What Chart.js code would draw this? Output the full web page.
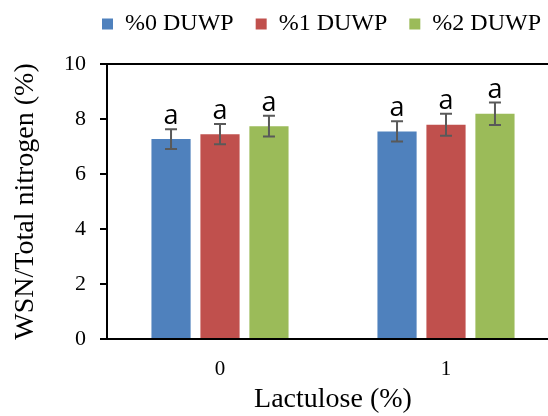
<!DOCTYPE html>
<html>
<head>
<meta charset="utf-8">
<script src="https://cdn.jsdelivr.net/npm/chart.js@4.4.1/dist/chart.umd.min.js"></script>
<style>
html, body { margin: 0; padding: 0; background: #fff; overflow: hidden; }
#wrap { width: 643px; height: 416px; }
</style>
</head>
<body>
<div id="wrap"><canvas id="myChart"></canvas></div>
<script>
// Lactulose levels on the x axis
var categories = ['0', '1'];
var seriesNames = ['%0 DUWP', '%1 DUWP', '%2 DUWP'];
var seriesColors = ['#4F81BD', '#C0504D', '#9BBB59'];

// WSN / total nitrogen, mean values
var duwp0 = [7.27, 7.55];
var duwp1 = [7.45, 7.79];
var duwp2 = [7.74, 8.19];
// standard deviations (error bars)
var err0 = [0.36, 0.37];
var err1 = [0.37, 0.40];
var err2 = [0.38, 0.41];
// significance letters
var letters0 = ['a', 'a'];
var letters1 = ['a', 'a'];
var letters2 = ['a', 'a'];

var yTicks = [0, 2, 4, 6, 8, 10];

var serif = "'Liberation Serif', 'Times New Roman', serif";

// legend takes a fixed band at the top
var legendHeight = {
	id: 'legendHeight',
	beforeInit: function(chart){
		var fit = chart.legend.fit;
		chart.legend.fit = function(){
			fit.call(this);
			this.height = 74;
		};
	}
};

var errorBarPlugin = {
	id: 'errorBars',
	afterDatasetsDraw: function(chart){
		var ctx = chart.ctx;
		var yScale = chart.scales.y;
		chart.data.datasets.forEach(function(ds, i){
			var meta = chart.getDatasetMeta(i);
			meta.data.forEach(function(bar, j){
				var v = ds.data[j];
				var e = ds.errors[j];
				var yTop = yScale.getPixelForValue(v + e);
				var yBot = yScale.getPixelForValue(v - e);
				ctx.save();
				ctx.strokeStyle = '#595959';
				ctx.lineWidth = 2;
				ctx.beginPath();
				ctx.moveTo(bar.x, yTop);
				ctx.lineTo(bar.x, yBot);
				ctx.moveTo(bar.x - 6, yTop);
				ctx.lineTo(bar.x + 6, yTop);
				ctx.moveTo(bar.x - 6, yBot);
				ctx.lineTo(bar.x + 6, yBot);
				ctx.stroke();
				ctx.fillStyle = '#000';
				ctx.font = "27px 'Open Sans', sans-serif";
				ctx.textAlign = 'center';
				ctx.textBaseline = 'alphabetic';
				ctx.fillText(ds.letters[j], bar.x, yTop - 5);
				ctx.restore();
			});
		});
	}
};

var ctx = document.getElementById('myChart').getContext('2d');
var chart = new Chart(ctx, {
	type: 'bar',
	data: {
		labels: categories,
		datasets: [{
			label: seriesNames[0],
			backgroundColor: seriesColors[0],
			data: duwp0,
			errors: err0,
			letters: letters0
		}, {
			label: seriesNames[1],
			backgroundColor: seriesColors[1],
			data: duwp1,
			errors: err1,
			letters: letters1
		}, {
			label: seriesNames[2],
			backgroundColor: seriesColors[2],
			data: duwp2,
			errors: err2,
			letters: letters2
		}]
	},
	options: {
		responsive: true,
		maintainAspectRatio: false,
		animation: false,
		devicePixelRatio: 1,
		categoryPercentage: 0.65,
		barPercentage: 0.8,
		layout: {
			padding: { top: -10, right: 0, bottom: 0, left: 0 }
		},
		plugins: {
			legend: {
				position: 'top',
				labels: {
					boxWidth: 11,
					boxHeight: 11,
					padding: 22,
					color: '#000',
					font: { family: serif, size: 24 }
				}
			},
			tooltip: { enabled: false }
		},
		scales: {
			x: {
				afterFit: function(scale){ scale.height = 77; },
				grid: { display: false, drawTicks: false },
				border: { display: true, color: '#000', width: 2 },
				ticks: { color: '#000', padding: 18, font: { family: serif, size: 21 } },
				title: {
					display: true,
					text: 'Lactulose (%)',
					color: '#000',
					padding: { top: 0, bottom: 0 },
					font: { family: serif, size: 28 }
				}
			},
			y: {
				min: 0,
				max: 10,
				afterFit: function(scale){ scale.width = 107; },
				afterBuildTicks: function(scale){
					scale.ticks = yTicks.map(function(v){ return { value: v }; });
				},
				grid: {
					color: function(c){ return c.tick && c.tick.value === 10 ? '#000' : 'rgba(0,0,0,0)'; },
					tickColor: '#000',
					tickLength: 7,
					lineWidth: 2
				},
				border: { display: true, color: '#000', width: 2 },
				ticks: { color: '#000', padding: 14, font: { family: serif, size: 22 } },
				title: {
					display: true,
					text: 'WSN/Total nitrogen (%)',
					color: '#000',
					padding: { top: 9, bottom: 0 },
					font: { family: serif, size: 28 }
				}
			},
			// empty right-hand space, cut off by the window
			r: {
				position: 'right',
				afterFit: function(scale){ scale.width = 84; },
				grid: { display: false },
				border: { display: false },
				ticks: { display: false }
			}
		}
	},
	plugins: [legendHeight, errorBarPlugin]
});
</script>
</body>
</html>
